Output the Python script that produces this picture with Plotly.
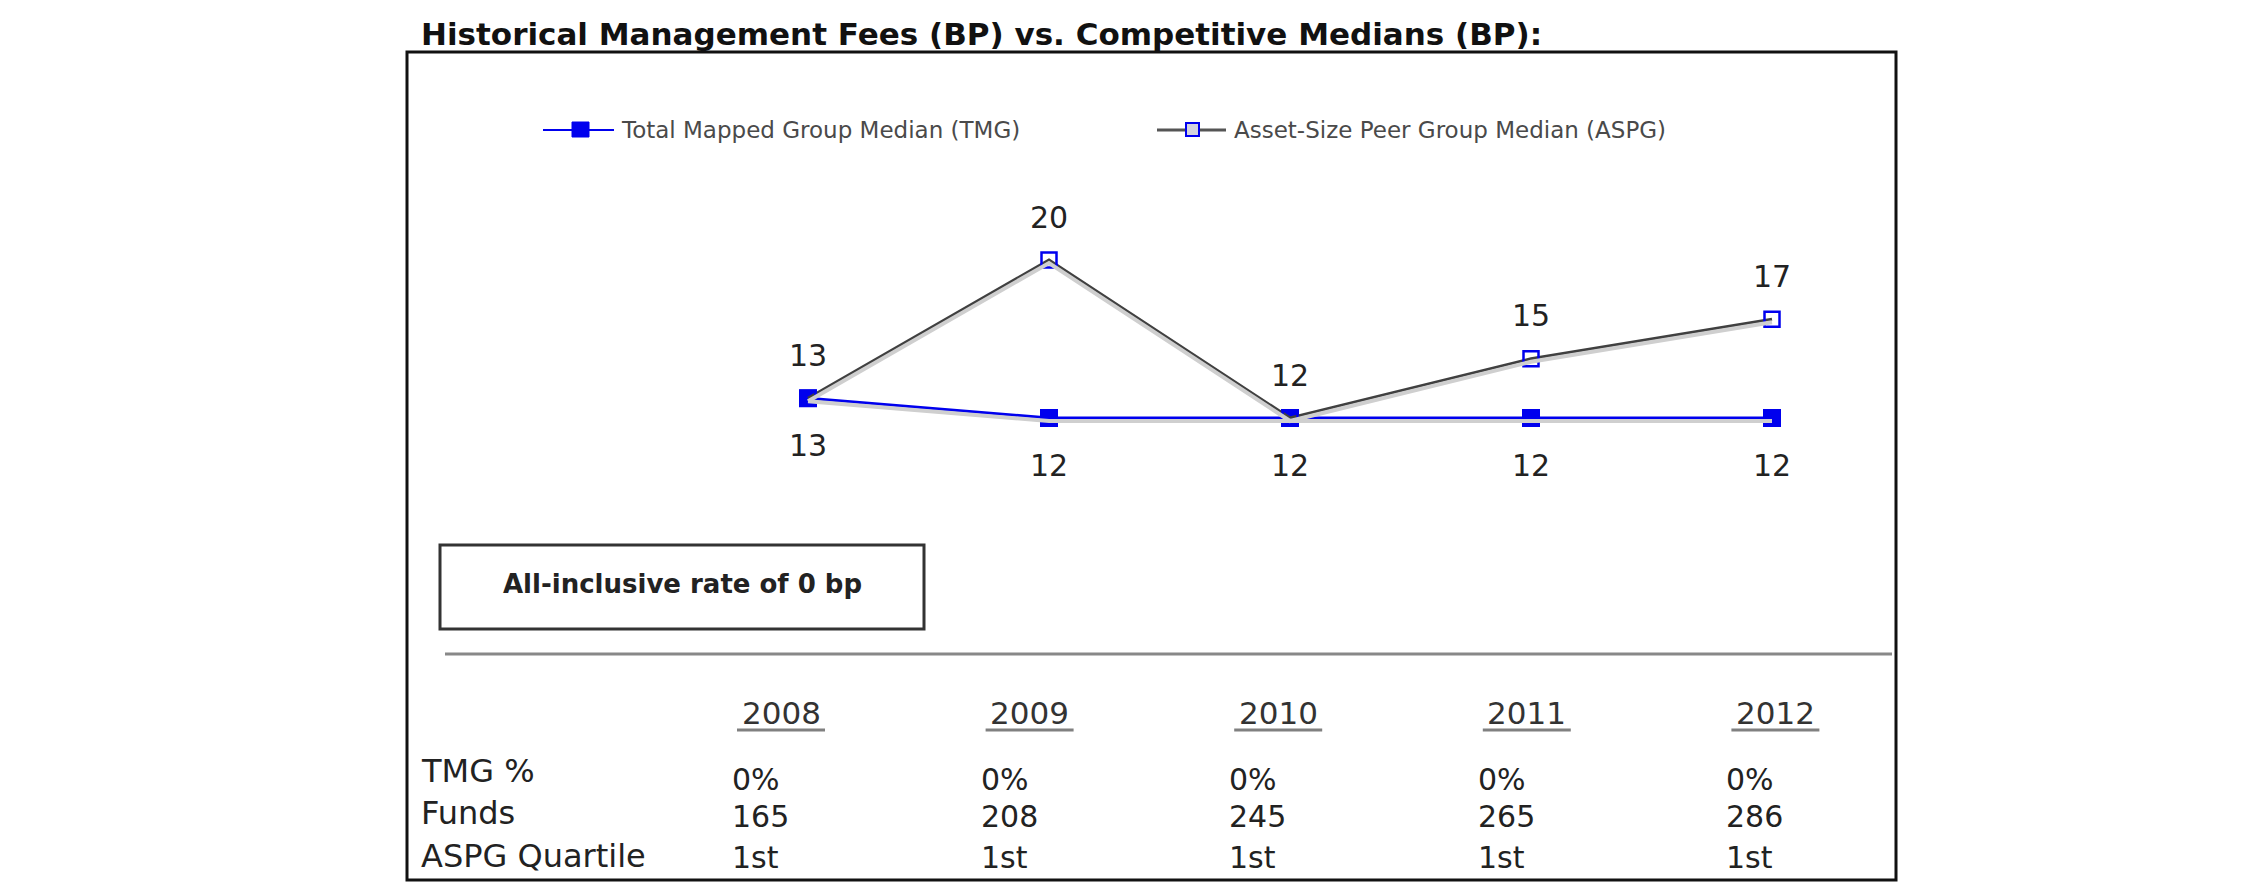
import plotly.graph_objects as go

# ---------------- data ----------------
years = [2008, 2009, 2010, 2011, 2012]
tmg_median = [13, 12, 12, 12, 12]
aspg_median = [13, 20, 12, 15, 17]
tmg_pct = ["0%", "0%", "0%", "0%", "0%"]
funds = [165, 208, 245, 265, 286]
aspg_quartile = ["1st", "1st", "1st", "1st", "1st"]
row_labels = ["TMG %", "Funds", "ASPG Quartile"]
series_names = ["Total Mapped Group Median (TMG)", "Asset-Size Peer Group Median (ASPG)"]
title_text = "Historical Management Fees (BP) vs. Competitive Medians (BP):"
box_text = "All-inclusive rate of 0 bp"

# ---------------- layout constants (pixels) ----------------
W, H = 2250, 895
FONT = "DejaVu Sans"
BLUE = "#0000ee"
GREY_LINE = "#404040"

def fx(p):
    return p / W

def fy(p):
    return 1 - p / H

# main chart scale: pixel = X0 + XS*(year-2008); pixel = Y0 - YS*value
X0, XS = 808, 241
Y0, YS = 655, 19.75
xr = [2008 - X0 / XS, 2008 + (W - X0) / XS]
yr = [(Y0 - H) / YS, Y0 / YS]
SH = 3  # shadow offset px
yr_sh = [yr[0] + SH / YS, yr[1] + SH / YS]

# table scale
TX0, TXS = 781, 248.6
xr2 = [2008 - TX0 / TXS, 2008 + (W - TX0) / TXS]

fig = go.Figure()

# shadows
fig.add_trace(go.Scatter(x=years, y=tmg_median, mode="lines", xaxis="x", yaxis="y3",
                         line=dict(color="#cfcfcf", width=4), hoverinfo="skip", showlegend=False))
fig.add_trace(go.Scatter(x=years, y=aspg_median, mode="lines", xaxis="x", yaxis="y3",
                         line=dict(color="#cfcfcf", width=4), hoverinfo="skip", showlegend=False))

fig.add_trace(go.Scatter(
    x=years, y=tmg_median, mode="lines+markers", name=series_names[0],
    line=dict(color=BLUE, width=3),
    marker=dict(symbol="square", size=18, color=BLUE, line=dict(width=0)),
    showlegend=False, cliponaxis=False))
fig.add_trace(go.Scatter(
    x=years, y=aspg_median, mode="lines+markers", name=series_names[1],
    line=dict(color=GREY_LINE, width=3),
    marker=dict(symbol="square-open", size=15, color=BLUE, line=dict(width=2.5, color=BLUE)),
    showlegend=False, cliponaxis=False))

annotations = []
shapes = []

# value labels
for yv, a, t in zip(years, aspg_median, tmg_median):
    annotations.append(dict(x=yv, y=a, xref="x", yref="y", text=str(a), showarrow=False,
                            yshift=43, font=dict(family=FONT, size=30, color="#222")))
    annotations.append(dict(x=yv, y=t, xref="x", yref="y", text=str(t), showarrow=False,
                            yshift=-47, font=dict(family=FONT, size=30, color="#222")))

# title
annotations.append(dict(x=fx(419), y=fy(34), xref="paper", yref="paper", text=title_text,
                        showarrow=False, xanchor="left", yanchor="middle",
                        font=dict(family=FONT, size=31, color="#111", weight=700)))

# outer frame
shapes.append(dict(type="rect", xref="paper", yref="paper", x0=fx(407), x1=fx(1896),
                   y0=fy(52), y1=fy(880), line=dict(color="#111", width=3)))

# legend (manual)
LY = 130
shapes.append(dict(type="line", xref="paper", yref="paper", x0=fx(543), x1=fx(614), y0=fy(LY), y1=fy(LY),
                   line=dict(color=BLUE, width=2)))
shapes.append(dict(type="rect", xref="paper", yref="paper", x0=fx(572), x1=fx(589), y0=fy(LY - 8), y1=fy(LY + 7),
                   fillcolor=BLUE, line=dict(color=BLUE, width=1)))
annotations.append(dict(x=fx(619), y=fy(LY), xref="paper", yref="paper", text=series_names[0],
                        showarrow=False, xanchor="left", yanchor="middle",
                        font=dict(family=FONT, size=23, color="#4a4a4a")))
shapes.append(dict(type="line", xref="paper", yref="paper", x0=fx(1157), x1=fx(1226), y0=fy(LY), y1=fy(LY),
                   line=dict(color="#555", width=3)))
shapes.append(dict(type="rect", xref="paper", yref="paper", x0=fx(1186), x1=fx(1199), y0=fy(LY - 7), y1=fy(LY + 6),
                   fillcolor="#d4d4de", line=dict(color=BLUE, width=2)))
annotations.append(dict(x=fx(1232), y=fy(LY), xref="paper", yref="paper", text=series_names[1],
                        showarrow=False, xanchor="left", yanchor="middle",
                        font=dict(family=FONT, size=23, color="#4a4a4a")))

# all-inclusive box
shapes.append(dict(type="rect", xref="paper", yref="paper", x0=fx(440), x1=fx(924),
                   y0=fy(545), y1=fy(629), line=dict(color="#333", width=3)))
annotations.append(dict(x=fx(682), y=fy(584), xref="paper", yref="paper", text=box_text,
                        showarrow=False, xanchor="center", yanchor="middle",
                        font=dict(family=FONT, size=26, color="#222", weight=700)))

# separator line
shapes.append(dict(type="line", xref="paper", yref="paper", x0=fx(445), x1=fx(1892),
                   y0=fy(654), y1=fy(654), line=dict(color="#888", width=3)))

# table headers
HDR_Y = 713
for yv in years:
    annotations.append(dict(x=yv, y=fy(HDR_Y), xref="x2", yref="paper", text=str(yv), showarrow=False,
                            xanchor="center", yanchor="middle",
                            font=dict(family=FONT, size=31, color="#333")))
    shapes.append(dict(type="line", xref="x2", yref="paper", xsizemode="pixel", xanchor=yv,
                       x0=-44, x1=44, y0=fy(730), y1=fy(730), line=dict(color="#808080", width=3)))

# table row labels
label_y = [771, 813, 856]
value_y = [779, 816, 857]
for lab, ly in zip(row_labels, label_y):
    annotations.append(dict(x=fx(419), y=fy(ly), xref="paper", yref="paper", text=lab, showarrow=False,
                            xanchor="left", yanchor="middle",
                            font=dict(family=FONT, size=32, color="#222")))

rows = [tmg_pct, [str(v) for v in funds], aspg_quartile]
for vals, vy in zip(rows, value_y):
    for yv, v in zip(years, vals):
        annotations.append(dict(x=yv, y=fy(vy), xref="x2", yref="paper", text=v, showarrow=False,
                                xanchor="left", yanchor="middle", xshift=-51,
                                font=dict(family=FONT, size=30, color="#222")))

ax_common = dict(visible=False, showgrid=False, zeroline=False, fixedrange=True)
fig.update_layout(
    width=W, height=H,
    margin=dict(l=0, r=0, t=0, b=0),
    paper_bgcolor="white", plot_bgcolor="white",
    showlegend=False,
    xaxis=dict(domain=[0, 1], range=xr, **ax_common),
    yaxis=dict(domain=[0, 1], range=yr, **ax_common),
    yaxis3=dict(domain=[0, 1], range=yr_sh, overlaying="y", **ax_common),
    xaxis2=dict(domain=[0, 1], range=xr2, anchor="y", overlaying="x", **ax_common),
    annotations=annotations,
    shapes=shapes,
)

fig.write_html("out.html")
